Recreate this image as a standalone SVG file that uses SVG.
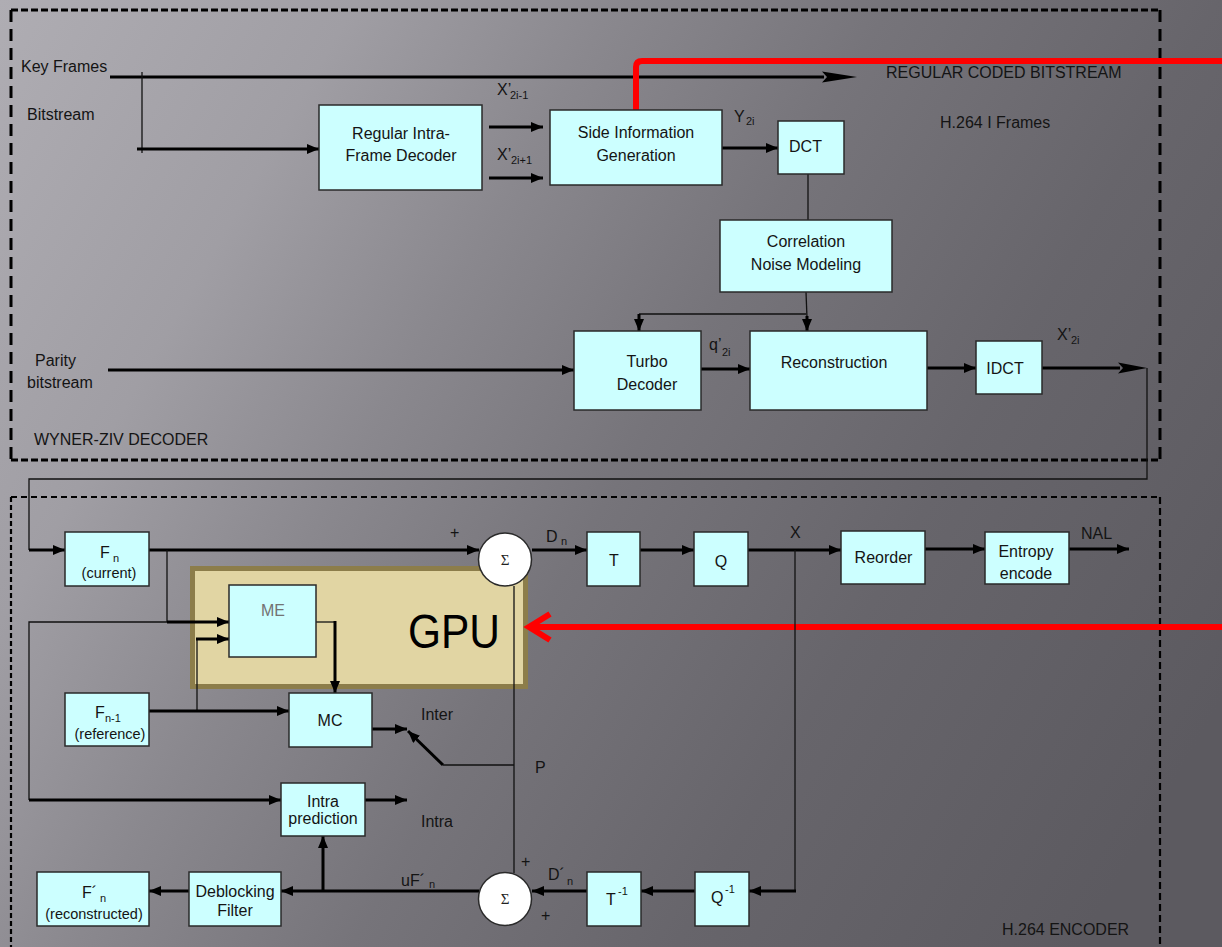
<svg xmlns="http://www.w3.org/2000/svg" width="1222" height="947" viewBox="0 0 1222 947">
<defs>
<linearGradient id="bg" x1="0" y1="0" x2="1222" y2="700" gradientUnits="userSpaceOnUse">
<stop offset="0" stop-color="#afadb3"/>
<stop offset="0.22" stop-color="#a09ea4"/>
<stop offset="0.38" stop-color="#8a888e"/>
<stop offset="0.55" stop-color="#76747a"/>
<stop offset="0.75" stop-color="#67656b"/>
<stop offset="1" stop-color="#5c5a60"/>
</linearGradient>
<marker id="ah" markerUnits="userSpaceOnUse" markerWidth="12" markerHeight="10" refX="12" refY="5" orient="auto"><path d="M0,0 L12,5 L0,10 z" fill="#000"/></marker>
<style>
.tk{stroke:#000;stroke-width:3;fill:none}
.tn{stroke:#111;stroke-width:1.3;fill:none}
.bx{fill:#ccffff;stroke:#2a2a2a;stroke-width:1.5}
.sg{fill:#fff;stroke:#2a2a2a;stroke-width:1.5}
.t{font-family:"Liberation Sans",Arial,sans-serif;fill:#141414;font-size:16px}
.c{text-anchor:middle}
.s{font-size:14.5px}
.sub{font-size:11px}
.red{stroke:#ff0000;stroke-width:6;fill:none}
.dsh{stroke:#000;fill:none}
</style>
</defs>
<rect x="0" y="0" width="1222" height="947" fill="url(#bg)"/>

<g id="borders">
<path class="dsh" d="M11,10 H1160" stroke-width="3" stroke-dasharray="7 3"/>
<path class="dsh" d="M11,460 H1160" stroke-width="3" stroke-dasharray="7 3"/>
<path class="dsh" d="M11,10 V460" stroke-width="3" stroke-dasharray="12 7"/>
<path class="dsh" d="M1160,10 V460" stroke-width="3" stroke-dasharray="12 7"/>
<path class="dsh" d="M11,497 H1160" stroke-width="2.2" stroke-dasharray="6 4"/>
<path class="dsh" d="M11,497 V947" stroke-width="2.2" stroke-dasharray="5 3"/>
<path class="dsh" d="M1160,497 V947" stroke-width="2.2" stroke-dasharray="7 4"/>
</g>

<g id="gpu">
<rect x="192.5" y="568.5" width="333" height="118" fill="#e1d5a3" stroke="#8c7d4a" stroke-width="5"/>
<text x="408" y="648" font-family="Liberation Sans,Arial,sans-serif" font-size="48" fill="#000" textLength="92" lengthAdjust="spacingAndGlyphs">GPU</text>
</g>

<g id="connectors">
<line class="tk" x1="110" y1="77" x2="824" y2="77"/>
<polygon points="822,71.5 857,77 822,82.5 827,77" fill="#000"/>
<line class="tn" x1="142" y1="72" x2="142" y2="153"/>
<line class="tk" x1="137" y1="149" x2="319" y2="149" marker-end="url(#ah)"/>
<line class="tk" x1="489" y1="127" x2="543" y2="127" marker-end="url(#ah)"/>
<line class="tk" x1="489" y1="178" x2="543" y2="178" marker-end="url(#ah)"/>
<line class="tk" x1="722" y1="148" x2="778" y2="148" marker-end="url(#ah)"/>
<line class="tn" x1="808" y1="174" x2="808" y2="220"/>
<line class="tn" x1="806" y1="292" x2="807" y2="318"/>
<line class="tn" x1="639" y1="314" x2="806" y2="314"/>
<line class="tk" x1="639" y1="314" x2="639" y2="331" marker-end="url(#ah)"/>
<line class="tk" x1="807" y1="316" x2="807" y2="331" marker-end="url(#ah)"/>
<line class="tk" x1="108" y1="370" x2="574" y2="370" marker-end="url(#ah)"/>
<line class="tk" x1="701" y1="369" x2="750" y2="369" marker-end="url(#ah)"/>
<line class="tk" x1="927" y1="368" x2="976" y2="368" marker-end="url(#ah)"/>
<line class="tk" x1="1042" y1="368" x2="1120" y2="368"/>
<polygon points="1118,362.5 1147,368 1118,373.5 1123,368" fill="#000"/>
<polyline class="tn" points="1147,368 1147,479 29,479 29,550"/>
<line class="tk" x1="29" y1="550" x2="65" y2="550" marker-end="url(#ah)"/>
<path class="red" d="M636,110 V67 Q636,61 642,61 H1222"/>
<line class="red" x1="1222" y1="627" x2="530" y2="627"/>
<polyline class="red" points="550,614 529,627 550,640" stroke-linejoin="miter"/>
<line class="tk" x1="149" y1="550" x2="479" y2="550" marker-end="url(#ah)"/>
<line class="tn" x1="167" y1="550" x2="167" y2="622"/>
<polyline class="tn" points="167,622 29,622 29,800"/>
<line class="tk" x1="167" y1="622" x2="229" y2="622" marker-end="url(#ah)"/>
<line class="tk" x1="29" y1="800" x2="281" y2="800" marker-end="url(#ah)"/>
<line class="tn" x1="197" y1="711" x2="197" y2="639"/>
<line class="tk" x1="196" y1="639" x2="229" y2="639" marker-end="url(#ah)"/>
<line class="tn" x1="316" y1="622" x2="335" y2="622"/>
<line class="tk" x1="335" y1="621" x2="335" y2="693" marker-end="url(#ah)"/>
<line class="tk" x1="149" y1="711" x2="289" y2="711" marker-end="url(#ah)"/>
<line class="tk" x1="372" y1="729" x2="407" y2="729" marker-end="url(#ah)"/>
<line class="tk" x1="443" y1="765" x2="408" y2="731" marker-end="url(#ah)"/>
<line class="tn" x1="443" y1="765" x2="514" y2="765"/>
<line class="tk" x1="365" y1="800" x2="407" y2="800" marker-end="url(#ah)"/>
<line class="tn" x1="514" y1="586" x2="514" y2="873"/>
<line class="tk" x1="532" y1="550" x2="587" y2="550" marker-end="url(#ah)"/>
<line class="tk" x1="640" y1="550" x2="694" y2="550" marker-end="url(#ah)"/>
<line class="tk" x1="748" y1="550" x2="841" y2="550" marker-end="url(#ah)"/>
<line class="tk" x1="925" y1="549" x2="985" y2="549" marker-end="url(#ah)"/>
<line class="tk" x1="1069" y1="549" x2="1129" y2="549" marker-end="url(#ah)"/>
<line class="tn" x1="795" y1="550" x2="795" y2="891"/>
<line class="tk" x1="796" y1="891" x2="749" y2="891" marker-end="url(#ah)"/>
<line class="tk" x1="695" y1="891" x2="641" y2="891" marker-end="url(#ah)"/>
<line class="tk" x1="587" y1="891" x2="532" y2="891" marker-end="url(#ah)"/>
<line class="tk" x1="479" y1="891" x2="281" y2="891" marker-end="url(#ah)"/>
<line class="tk" x1="323" y1="891" x2="323" y2="836" marker-end="url(#ah)"/>
<line class="tk" x1="189" y1="891" x2="149" y2="891" marker-end="url(#ah)"/>
</g>

<g id="rifd"><rect class="bx" x="319" y="105" width="163" height="85"/>
<text class="t c" x="401" y="138.5">Regular Intra-</text><text class="t c" x="401" y="161">Frame Decoder</text></g>
<g id="sig"><rect class="bx" x="550" y="110" width="172" height="75"/>
<text class="t c" x="636" y="138">Side Information</text><text class="t c" x="636" y="161">Generation</text></g>
<g id="dct"><rect class="bx" x="778" y="121" width="66" height="53"/>
<text class="t c" x="805.5" y="152" font-size="15">DCT</text></g>
<g id="cnm"><rect class="bx" x="720" y="220" width="172" height="72"/>
<text class="t c" x="806" y="247">Correlation</text><text class="t c" x="806" y="270">Noise Modeling</text></g>
<g id="turbo"><rect class="bx" x="574" y="331" width="127" height="79"/>
<text class="t c" x="647" y="367">Turbo</text><text class="t c" x="647" y="390">Decoder</text></g>
<g id="recon"><rect class="bx" x="750" y="331" width="177" height="79"/>
<text class="t c" x="834" y="368">Reconstruction</text></g>
<g id="idct"><rect class="bx" x="976" y="341" width="66" height="53"/>
<text class="t c" x="1005" y="373.5" font-size="15">IDCT</text></g>

<g id="fn"><rect class="bx" x="65" y="532" width="84" height="54"/>
<text class="t" x="100" y="558" font-size="14.5">F</text><text class="t sub" x="113" y="562">n</text>
<text class="t c s" x="109" y="577.5">(current)</text></g>
<g id="sum1"><circle class="sg" cx="505" cy="559.5" r="26.5"/>
<text x="505" y="564.5" text-anchor="middle" font-family="Liberation Serif,serif" font-size="15" fill="#222">Σ</text></g>
<g id="t"><rect class="bx" x="587" y="532" width="53" height="54"/>
<text class="t c" x="614" y="565.5" font-size="15">T</text></g>
<g id="q"><rect class="bx" x="694" y="532" width="54" height="54"/>
<text class="t c" x="721" y="567" font-size="15">Q</text></g>
<g id="reorder"><rect class="bx" x="841" y="531" width="84" height="53"/>
<text class="t c" x="883.5" y="562.5">Reorder</text></g>
<g id="entropy"><rect class="bx" x="985" y="532" width="84" height="52"/>
<text class="t c" x="1026" y="556.5">Entropy</text><text class="t c" x="1026" y="578.5">encode</text></g>
<g id="me"><rect class="bx" x="229" y="585" width="87" height="72"/>
<text class="t c" x="273" y="616" font-size="17" style="fill:#737373">ME</text></g>
<g id="fn1"><rect class="bx" x="65" y="693" width="84" height="53"/>
<text class="t" x="95" y="718" font-size="14.5">F</text><text class="t sub" x="105" y="722">n-1</text>
<text class="t c s" x="110" y="739">(reference)</text></g>
<g id="mc"><rect class="bx" x="289" y="693" width="83" height="54"/>
<text class="t c" x="330" y="725.5">MC</text></g>
<g id="intrapred"><rect class="bx" x="281" y="783" width="84" height="53"/>
<text class="t c" x="323" y="806.5" font-size="15">Intra</text><text class="t c" x="323" y="823.5" font-size="15">prediction</text></g>
<g id="fnrec"><rect class="bx" x="37" y="872" width="112" height="54"/>
<text class="t" x="82" y="898" font-size="14.5">F´</text><text class="t sub" x="100" y="902">n</text>
<text class="t c s" x="94" y="919">(reconstructed)</text></g>
<g id="deblock"><rect class="bx" x="189" y="872" width="92" height="54"/>
<text class="t c" x="235" y="897" font-size="14.5">Deblocking</text><text class="t c" x="235" y="916" font-size="14.5">Filter</text></g>
<g id="sum2"><circle class="sg" cx="505" cy="899" r="26.5"/>
<text x="505" y="904" text-anchor="middle" font-family="Liberation Serif,serif" font-size="15" fill="#222">Σ</text></g>
<g id="tinv"><rect class="bx" x="587" y="872" width="54" height="54"/>
<text class="t" x="606" y="905" font-size="15">T</text><text class="t sub" x="618" y="895">-1</text></g>
<g id="qinv"><rect class="bx" x="695" y="872" width="54" height="54"/>
<text class="t" x="711" y="903" font-size="15">Q</text><text class="t sub" x="725" y="893">-1</text></g>

<g id="labels">
<text class="t" x="21" y="71.5" font-size="15">Key Frames</text>
<text class="t" x="27" y="119.5">Bitstream</text>
<text class="t" x="497" y="95">X’</text><text class="t sub" x="510" y="98.5">2i-1</text>
<text class="t" x="497" y="160">X’</text><text class="t sub" x="511" y="164">2i+1</text>
<text class="t" x="734" y="122">Y</text><text class="t sub" x="746" y="125">2i</text>
<text class="t" x="886" y="78" font-size="13.5">REGULAR CODED BITSTREAM</text>
<text class="t" x="940" y="127.5">H.264 I Frames</text>
<text class="t" x="709" y="350">q’</text><text class="t sub" x="722" y="356">2i</text>
<text class="t" x="1057" y="340">X’</text><text class="t sub" x="1071" y="344">2i</text>
<text class="t" x="35" y="365.5">Parity</text>
<text class="t" x="27" y="388">bitstream</text>
<text class="t" x="34" y="445" font-size="14.5">WYNER-ZIV DECODER</text>
<text class="t" x="450" y="538" font-size="13">+</text>
<text class="t" x="546" y="542" font-size="14.5">D</text><text class="t sub" x="561" y="545">n</text>
<text class="t" x="790" y="538" font-size="15">X</text>
<text class="t" x="1081" y="538.5" font-size="15.5">NAL</text>
<text class="t" x="421" y="719.5">Inter</text>
<text class="t" x="535" y="773" font-size="15">P</text>
<text class="t" x="421" y="827">Intra</text>
<text class="t" x="401" y="886" font-size="15">uF´</text><text class="t sub" x="429" y="888">n</text>
<text class="t" x="521" y="867" font-size="13">+</text>
<text class="t" x="541" y="921" font-size="13">+</text>
<text class="t" x="548" y="880" font-size="15">D´</text><text class="t sub" x="567" y="885">n</text>
<text class="t" x="1002" y="935" font-size="13">H.264 ENCODER</text>
</g>
</svg>
